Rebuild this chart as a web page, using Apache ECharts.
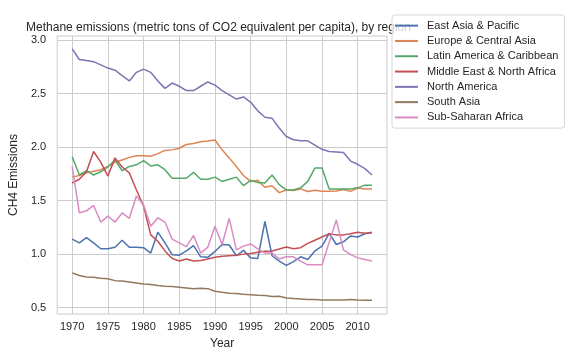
<!DOCTYPE html>
<html>
<head>
<meta charset="utf-8">
<script src="https://cdn.jsdelivr.net/npm/echarts@6/dist/echarts.min.js"></script>
<style>
html,body{margin:0;padding:0;background:#fff;}
#chart{width:576px;height:360px;}
</style>
</head>
<body>
<div id="chart"></div>
<script>
var years = [];
for (var y = 1970; y <= 2012; y++) years.push(y);

var eastAsiaPacific = [1.14,1.105,1.155,1.105,1.05,1.05,1.065,1.13,1.065,1.065,1.06,1.01,1.205,1.105,0.995,0.99,1.03,1.08,0.975,0.97,1.025,1.09,1.085,0.985,1.035,0.965,0.96,1.305,0.985,0.935,0.895,0.93,0.975,0.95,1.03,1.075,1.195,1.09,1.115,1.17,1.16,1.19,1.205];
var europeCentralAsia = [1.72,1.735,1.76,1.775,1.79,1.82,1.86,1.88,1.905,1.92,1.92,1.915,1.94,1.97,1.975,1.99,2.025,2.035,2.05,2.057,2.067,1.975,1.90,1.82,1.735,1.68,1.69,1.625,1.64,1.575,1.60,1.595,1.61,1.585,1.597,1.587,1.587,1.59,1.605,1.587,1.618,1.609,1.609];
var latinAmericaCaribbean = [1.91,1.74,1.78,1.74,1.77,1.815,1.88,1.78,1.82,1.835,1.875,1.825,1.835,1.79,1.71,1.71,1.71,1.765,1.70,1.70,1.72,1.68,1.70,1.72,1.64,1.69,1.67,1.665,1.74,1.65,1.60,1.60,1.62,1.68,1.805,1.805,1.61,1.61,1.61,1.61,1.62,1.645,1.645];
var middleEastNorthAfrica = [1.665,1.70,1.77,1.96,1.86,1.73,1.90,1.815,1.76,1.60,1.45,1.18,1.12,1.03,0.96,0.935,0.955,0.935,0.94,0.955,0.97,0.98,0.985,0.99,1.00,1.005,1.017,1.026,1.03,1.048,1.067,1.05,1.06,1.10,1.13,1.16,1.19,1.18,1.18,1.19,1.205,1.195,1.20];
var northAmerica = [2.92,2.82,2.81,2.80,2.77,2.74,2.72,2.67,2.62,2.70,2.73,2.70,2.62,2.55,2.60,2.57,2.53,2.53,2.57,2.61,2.58,2.53,2.49,2.45,2.47,2.42,2.34,2.28,2.27,2.18,2.10,2.07,2.06,2.06,2.02,1.98,1.96,1.955,1.95,1.87,1.84,1.80,1.74];
var southAsia = [0.825,0.80,0.787,0.784,0.775,0.77,0.752,0.749,0.74,0.731,0.72,0.715,0.706,0.70,0.697,0.69,0.684,0.676,0.68,0.677,0.653,0.643,0.634,0.631,0.625,0.621,0.615,0.612,0.603,0.606,0.59,0.584,0.58,0.576,0.575,0.572,0.571,0.57,0.572,0.575,0.571,0.569,0.568];
var subSaharanAfrica = [1.82,1.385,1.405,1.455,1.30,1.355,1.30,1.385,1.335,1.545,1.46,1.26,1.34,1.30,1.14,1.105,1.07,1.175,1.01,1.065,1.26,1.09,1.335,1.04,1.075,1.095,1.05,1.01,1.01,0.955,0.975,0.975,0.935,0.90,0.90,0.90,1.11,1.32,1.04,0.995,0.965,0.95,0.935];

var seriesNames = ['East Asia & Pacific','Europe & Central Asia','Latin America & Caribbean','Middle East & North Africa','North America','South Asia','Sub-Saharan Africa'];
var seriesValues = [eastAsiaPacific, europeCentralAsia, latinAmericaCaribbean, middleEastNorthAfrica, northAmerica, southAsia, subSaharanAfrica];
var colors = ['#4C72B0','#DD8452','#55A868','#C44E52','#8172B3','#937860','#DA8BC3'];

var xTicks = [1970,1975,1980,1985,1990,1995,2000,2005,2010];
var yTicks = [0.5,1.0,1.5,2.0,2.5,3.0];

var FONT = '"Liberation Sans", Arial, sans-serif';

var series = seriesNames.map(function(name, i){
  return {
    name: name,
    type: 'line',
    symbol: 'none',
    showSymbol: false,
    color: colors[i],
    lineStyle: {width: 1.5, color: colors[i]},
    data: years.map(function(yr, j){ return [yr, seriesValues[i][j]]; }),
    animation: false,
    z: 2 + i
  };
});

var chart = echarts.init(document.getElementById('chart'), null, {renderer: 'canvas'});
chart.setOption({
  backgroundColor: '#ffffff',
  animation: false,
  textStyle: {fontFamily: FONT},
  title: {
    text: 'Methane emissions (metric tons of CO2 equivalent per capita), by region',
    left: 213.5,
    top: 17,
    textAlign: 'center',
    z: 1,
    textStyle: {fontFamily: FONT, fontSize: 12, fontWeight: 'normal', color: '#262626'}
  },
  legend: {
    orient: 'vertical',
    left: 392,
    top: 15,
    z: 20,
    padding: [4, 6, 4, 3],
    itemGap: 2,
    itemWidth: 23,
    itemHeight: 2,
    icon: 'rect',
    backgroundColor: 'rgba(255,255,255,0.8)',
    borderColor: 'rgba(204,204,204,0.8)',
    borderWidth: 1,
    borderRadius: 3,
    textStyle: {fontFamily: FONT, fontSize: 11, color: '#262626', padding: [0,0,0,4], lineHeight: 13.3},
    data: seriesNames
  },
  grid: {
    left: 52, right: 189, top: 36, bottom: 46,
    show: true, borderColor: '#cccccc', borderWidth: 1,
    containLabel: false
  },
  xAxis: {
    type: 'value',
    min: 1967.9,
    max: 2014.1,
    name: 'Year',
    nameLocation: 'middle',
    nameGap: 24,
    nameTextStyle: {fontFamily: FONT, fontSize: 12, color: '#262626'},
    axisLine: {show: false},
    axisTick: {show: false, customValues: xTicks},
    axisLabel: {customValues: xTicks, fontFamily: FONT, fontSize: 11, color: '#262626', margin: 7,
      formatter: function(v){ return String(Math.round(v)); }},
    splitLine: {show: true, customValues: xTicks, lineStyle: {color: '#cccccc', width: 1}}
  },
  yAxis: {
    type: 'value',
    min: 0.44,
    max: 3.04,
    name: 'CH4 Emissions',
    nameLocation: 'middle',
    nameGap: 23,
    nameTextStyle: {fontFamily: FONT, fontSize: 12, color: '#262626'},
    axisLine: {show: false},
    axisTick: {show: false, customValues: yTicks},
    axisLabel: {customValues: yTicks, fontFamily: FONT, fontSize: 11, color: '#262626', margin: 11,
      formatter: function(v){ return v.toFixed(1); }},
    splitLine: {show: true, customValues: yTicks, lineStyle: {color: '#cccccc', width: 1}}
  },
  series: series
});
</script>
</body>
</html>
